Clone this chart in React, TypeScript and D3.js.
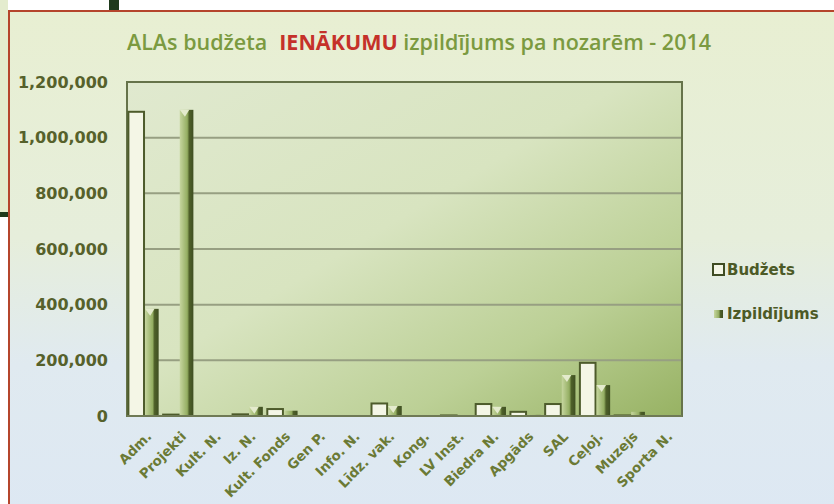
import React, { useEffect, useRef } from 'react';
import * as d3 from 'd3';

const categories = ['Adm.', 'Projekti', 'Kult. N.', 'Iz. N.', 'Kult. Fonds', 'Gen P.', 'Info. N.', 'Līdz. vak.', 'Kong.', 'LV Inst.', 'Biedra N.', 'Apgāds', 'SAL', 'Ceļoj.', 'Muzejs', 'Sporta N.'];
const budzets = [1093000, 5000, 0, 6000, 25000, 0, 0, 45000, 0, 2000, 43000, 15000, 43000, 191000, 2000, 0];
const izpildijums = [385000, 1100000, 0, 33000, 19000, 0, 0, 36000, 0, 0, 33000, 4000, 147000, 111000, 15000, 0];
const yTicks = [0, 200000, 400000, 600000, 800000, 1000000, 1200000];
const seriesNames = ['Budžets', 'Izpildījums'];

const App = () => {
  const svgRef = useRef<SVGSVGElement>(null);

  useEffect(() => {
    const width = 834;
    const height = 504;
    const margin = { top: 82, right: 152, bottom: 88, left: 127 };

    d3.select(svgRef.current).selectAll('*').remove();
    const svg = d3.select(svgRef.current)
      .attr('width', width)
      .attr('height', height)
      .attr('viewBox', `0 0 ${width} ${height}`);

    const defs = svg.append('defs');
    const bg = defs.append('linearGradient').attr('id', 'bgGrad')
      .attr('x1', 0).attr('y1', 0).attr('x2', 0).attr('y2', 1);
    bg.append('stop').attr('offset', '0%').attr('stop-color', '#e8efd2');
    bg.append('stop').attr('offset', '45%').attr('stop-color', '#e6eedb');
    bg.append('stop').attr('offset', '70%').attr('stop-color', '#e0eaf0');
    bg.append('stop').attr('offset', '100%').attr('stop-color', '#dde8f3');

    const plotBg = defs.append('linearGradient').attr('id', 'plotGrad')
      .attr('x1', 0).attr('y1', 0).attr('x2', 1).attr('y2', 1);
    plotBg.append('stop').attr('offset', '0%').attr('stop-color', '#e0e9cf');
    plotBg.append('stop').attr('offset', '45%').attr('stop-color', '#d8e4c0');
    plotBg.append('stop').attr('offset', '75%').attr('stop-color', '#bcd096');
    plotBg.append('stop').attr('offset', '100%').attr('stop-color', '#97b263');

    const izGrad = defs.append('linearGradient').attr('id', 'izGrad')
      .attr('x1', 0).attr('y1', 0).attr('x2', 1).attr('y2', 0);
    izGrad.append('stop').attr('offset', '0%').attr('stop-color', '#c6d69f');
    izGrad.append('stop').attr('offset', '55%').attr('stop-color', '#94ae62');
    izGrad.append('stop').attr('offset', '70%').attr('stop-color', '#4e6029');
    izGrad.append('stop').attr('offset', '100%').attr('stop-color', '#3f4f22');

    // page background + frame
    svg.append('rect').attr('width', width).attr('height', height).attr('fill', '#ffffff');
    svg.append('rect').attr('x', 0).attr('y', 0).attr('width', 8).attr('height', 212).attr('fill', '#e4ecce');
    svg.append('rect').attr('x', 0).attr('y', 212).attr('width', 8).attr('height', 5).attr('fill', '#1f3a1c');
    svg.append('rect').attr('x', 109).attr('y', 0).attr('width', 10).attr('height', 10).attr('fill', '#1f3a1c');
    svg.append('rect').attr('x', 9).attr('y', 11).attr('width', width).attr('height', height)
      .attr('fill', 'url(#bgGrad)').attr('stroke', '#b5452c').attr('stroke-width', 2);

    const x0 = d3.scaleBand<string>().domain(categories)
      .range([margin.left, width - margin.right]).paddingInner(0.1).paddingOuter(0.04);
    const x1 = d3.scaleBand<string>().domain(seriesNames).range([0, x0.bandwidth()]).padding(0);
    const y = d3.scaleLinear().domain([0, 1200000]).range([height - margin.bottom, margin.top]);

    svg.append('rect')
      .attr('x', margin.left).attr('y', margin.top)
      .attr('width', width - margin.right - margin.left)
      .attr('height', height - margin.bottom - margin.top)
      .attr('fill', 'url(#plotGrad)');

    svg.append('g').selectAll('line').data(yTicks.slice(1)).join('line')
      .attr('x1', margin.left).attr('x2', width - margin.right)
      .attr('y1', d => y(d)).attr('y2', d => y(d))
      .attr('stroke', '#979f82').attr('stroke-width', 2);

    svg.append('rect')
      .attr('x', margin.left).attr('y', margin.top)
      .attr('width', width - margin.right - margin.left)
      .attr('height', height - margin.bottom - margin.top)
      .attr('fill', 'none').attr('stroke', '#66734a').attr('stroke-width', 2);

    // y labels
    svg.append('g').selectAll('text').data(yTicks).join('text')
      .attr('x', 108).attr('y', d => y(d)).attr('dy', '0.35em')
      .attr('text-anchor', 'end')
      .style('font-family', 'DejaVu Sans').style('font-weight', 'bold').style('font-size', '16px')
      .attr('fill', '#56612b')
      .text(d => d3.format(',')(d));

    // bars
    const groups = svg.append('g').selectAll('g').data(categories).join('g')
      .attr('transform', d => `translate(${x0(d)},0)`);

    groups.append('rect')
      .attr('x', x1('Budžets')!)
      .attr('y', (_, i) => y(budzets[i]))
      .attr('width', x1.bandwidth())
      .attr('height', (_, i) => y(0) - y(budzets[i]))
      .attr('fill', '#f4f6e6').attr('stroke', '#4d5b2b').attr('stroke-width', 2)
      .style('display', (_, i) => (budzets[i] > 0 ? null : 'none'));

    groups.append('rect')
      .attr('x', x1('Izpildījums')! + 1)
      .attr('y', (_, i) => y(izpildijums[i]))
      .attr('width', x1.bandwidth() - 2)
      .attr('height', (_, i) => y(0) - y(izpildijums[i]))
      .attr('fill', 'url(#izGrad)')
      .style('display', (_, i) => (izpildijums[i] > 0 ? null : 'none'));

    groups.append('path')
      .attr('d', (_, i) => {
        const v = izpildijums[i];
        if (v < 30000) return '';
        const xl = x1('Izpildījums')! + 1;
        const w = x1.bandwidth() - 2;
        const top = y(v);
        return `M${xl},${top}L${xl + w * 0.7},${top}L${xl + w * 0.38},${top + 7}Z`;
      })
      .attr('fill', '#e4ebcd');

    // zero line
    svg.append('line')
      .attr('x1', margin.left).attr('x2', width - margin.right)
      .attr('y1', y(0)).attr('y2', y(0))
      .attr('stroke', '#6f7a55').attr('stroke-width', 2);

    // x labels
    svg.append('g').selectAll('text').data(categories).join('text')
      .attr('transform', d => `translate(${x0(d)! + x0.bandwidth() / 2 + 5},${y(0) + 18}) rotate(-45)`)
      .attr('text-anchor', 'end')
      .attr('dy', '0.35em')
      .style('font-family', 'DejaVu Sans').style('font-weight', 'bold').style('font-size', '13.5px')
      .attr('fill', '#6b7a35')
      .text(d => d);

    // title
    const title = svg.append('text')
      .attr('x', 419).attr('y', 50)
      .attr('text-anchor', 'middle')
      .style('font-family', 'Open Sans').style('font-weight', '600').style('font-size', '21.5px')
      .attr('fill', '#7b9a40');
    title.append('tspan').text('ALAs budžeta');
    title.append('tspan').attr('dx', 12).attr('fill', '#c5312a').style('font-weight', 'bold').text('IENĀKUMU');
    title.append('tspan').text(' izpildījums pa nozarēm - 2014');

    // legend
    const legend = svg.append('g').attr('transform', 'translate(713,0)');
    legend.append('rect').attr('x', 0).attr('y', 264).attr('width', 11).attr('height', 11)
      .attr('fill', '#f4f6e6').attr('stroke', '#3f4c22').attr('stroke-width', 2);
    legend.append('rect').attr('x', 1).attr('y', 310).attr('width', 9).attr('height', 8)
      .attr('fill', 'url(#izGrad)');
    legend.selectAll('text.lg').data(seriesNames).join('text')
      .attr('class', 'lg')
      .attr('x', 14).attr('y', (_, i) => 270 + i * 44).attr('dy', '0.35em')
      .style('font-family', 'DejaVu Sans').style('font-weight', 'bold').style('font-size', '15px')
      .attr('fill', '#4c5a26')
      .text(d => d);
  }, []);

  return (
    <svg ref={svgRef} style={{ position: 'absolute', top: 0, left: 0, display: 'block' }}></svg>
  );
};

export default App;
